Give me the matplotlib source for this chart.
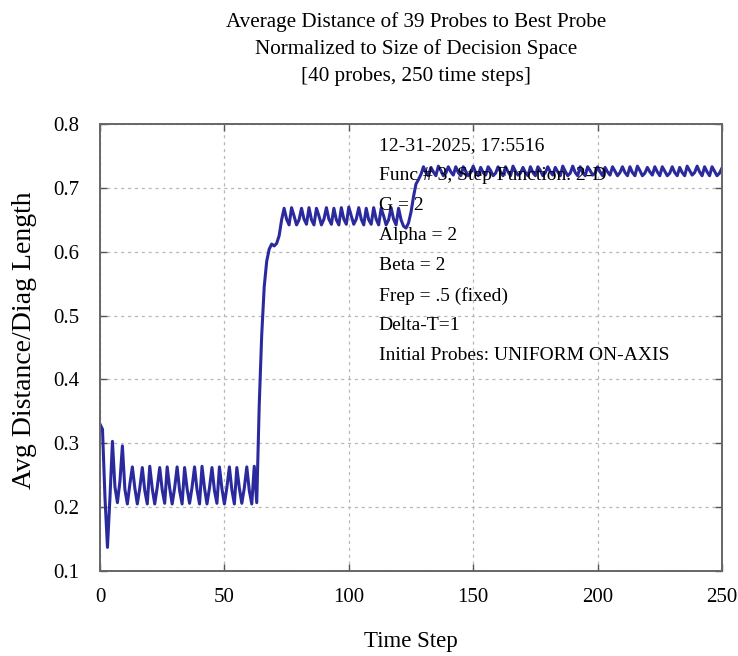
import numpy as np
import matplotlib
matplotlib.use("Agg")
import matplotlib.pyplot as plt

plt.rcParams["font.family"] = ["Liberation Serif", "DejaVu Serif"]

# --- data ---
startup = [0.330, 0.322, 0.215, 0.137, 0.215, 0.303, 0.232, 0.207, 0.240, 0.296,
           0.228, 0.205, 0.236]

plateau_low = [0.263, 0.230, 0.205, 0.230, 0.262, 0.226, 0.205,
               0.264, 0.229, 0.205, 0.231, 0.262, 0.227, 0.206,
               0.263, 0.230, 0.205, 0.230, 0.263, 0.226, 0.205,
               0.262, 0.229, 0.206, 0.231, 0.263, 0.227, 0.205,
               0.264, 0.230, 0.205, 0.230, 0.262, 0.226, 0.206,
               0.263, 0.229, 0.205, 0.231, 0.263, 0.227, 0.205,
               0.262, 0.230, 0.206, 0.230, 0.263, 0.226, 0.205,
               0.264]

rise_1 = [0.207, 0.360, 0.470, 0.545, 0.585, 0.604, 0.612, 0.609, 0.613, 0.625,
          0.650]

plateau_mid = [0.668, 0.651, 0.642,
               0.669, 0.656, 0.642, 0.650,
               0.668, 0.651, 0.643,
               0.669, 0.650, 0.642,
               0.668, 0.656, 0.642, 0.651,
               0.669, 0.651, 0.643,
               0.668, 0.650, 0.642,
               0.669, 0.651, 0.643,
               0.670, 0.656, 0.643, 0.651,
               0.669, 0.651, 0.642,
               0.668, 0.650, 0.643,
               0.669, 0.651, 0.642,
               0.668, 0.656, 0.642, 0.650,
               0.669, 0.651, 0.642,
               0.668, 0.650, 0.640]

rise_2 = [0.637, 0.645, 0.662, 0.686, 0.706, 0.713, 0.721]

plateau_high = [0.733, 0.724, 0.719, 0.732, 0.725, 0.719, 0.734, 0.727, 0.719, 0.723,
                0.733, 0.725, 0.720, 0.733, 0.724, 0.719, 0.733, 0.726, 0.719, 0.724,
                0.734, 0.724, 0.719, 0.732, 0.724, 0.720, 0.733, 0.727, 0.719, 0.723,
                0.733, 0.725, 0.719, 0.733, 0.725, 0.719, 0.734, 0.726, 0.720, 0.723,
                0.732, 0.724, 0.719, 0.733, 0.724, 0.719, 0.733, 0.727, 0.719, 0.724,
                0.733, 0.725, 0.720, 0.732, 0.725, 0.719, 0.734, 0.726, 0.719, 0.723,
                0.734, 0.724, 0.719, 0.733, 0.724, 0.719, 0.733, 0.727, 0.720, 0.723,
                0.733, 0.725, 0.719, 0.732, 0.725, 0.720, 0.733, 0.726, 0.719, 0.724,
                0.733, 0.724, 0.719, 0.733, 0.724, 0.719, 0.734, 0.727, 0.719, 0.723,
                0.732, 0.725, 0.720, 0.733, 0.725, 0.719, 0.733, 0.726, 0.719, 0.723,
                0.733, 0.724, 0.719, 0.732, 0.724, 0.719, 0.734, 0.727, 0.720, 0.724,
                0.734, 0.725, 0.719, 0.733, 0.725, 0.719, 0.733, 0.726, 0.719, 0.723,
                0.731]

avg_dist = startup + plateau_low + rise_1 + plateau_mid + rise_2 + plateau_high
steps = np.arange(len(avg_dist))

title_lines = ["Average Distance of 39 Probes to Best Probe",
               "Normalized to Size of Decision Space",
               "[40 probes, 250 time steps]"]

notes = ["12-31-2025, 17:5516",
         "Func # 3, Step Function. 2-D",
         "G = 2",
         "Alpha = 2",
         "Beta = 2",
         "Frep = .5 (fixed)",
         "Delta-T=1",
         "Initial Probes: UNIFORM ON-AXIS"]

x_ticks = [0, 50, 100, 150, 200, 250]
y_ticks = [0.1, 0.2, 0.3, 0.4, 0.5, 0.6, 0.7, 0.8]

# --- figure ---
W, H = 738, 656
fig = plt.figure(figsize=(W / 100, H / 100), dpi=100)
ax = fig.add_axes([100 / W, 1 - 571 / H, 622 / W, 447 / H])

ax.plot(steps, avg_dist, color="#2a2a9e", linewidth=2.2)

ax.set_xlim(0, 250)
ax.set_ylim(0.1, 0.8)
ax.set_xticks(x_ticks)
ax.set_yticks(y_ticks)
ax.set_yticklabels([f"{v:.1f}" for v in y_ticks])

ax.grid(True, color="#b8b8b8", linestyle=(0, (2.5, 3)), linewidth=0.9)
ax.tick_params(direction="in", top=True, right=True, length=5, width=1,
               color="#555555", labelsize=15)
ax.tick_params(axis="x", pad=12)
ax.tick_params(axis="y", pad=15)
for sp in ax.spines.values():
    sp.set_color("#666666")
    sp.set_linewidth(1.4)

fig.text(411 / W, 1 - 641 / H, "Time Step", fontsize=16.5, ha="center", va="center")
fig.text(25 / W, 1 - 340 / H, "Avg Distance/Diag Length", fontsize=20,
         rotation=90, ha="center", va="center")

# three centred title lines
for i, line in enumerate(title_lines):
    fig.text(416 / W, 1 - (22 + 27.5 * i) / H, line, fontsize=15.2,
             ha="center", va="center")

y0 = 0.766
for i, line in enumerate(notes):
    ax.text(112, y0 - i * 0.047, line, fontsize=14, va="center", ha="left")

fig.savefig("out.png", dpi=100)
